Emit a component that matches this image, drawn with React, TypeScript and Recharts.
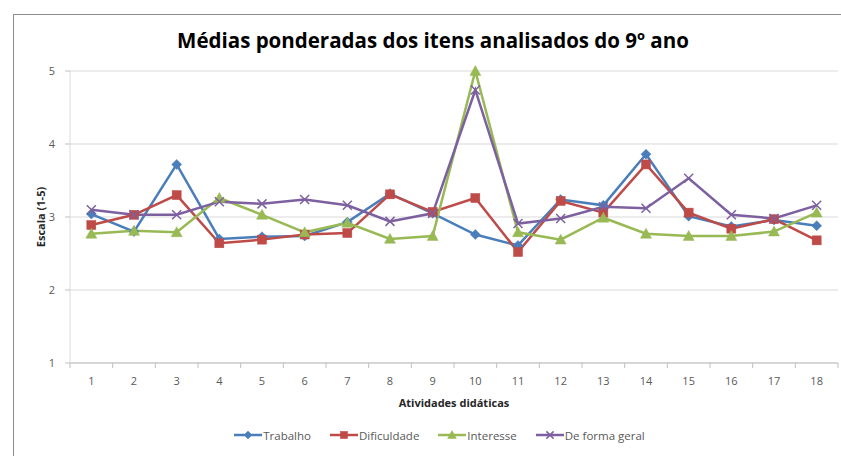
import React from 'react';
import { LineChart, Line, XAxis, YAxis, CartesianGrid, Legend } from 'recharts';

const categories = ['1','2','3','4','5','6','7','8','9','10','11','12','13','14','15','16','17','18'];
const trabalho = [3.04, 2.80, 3.72, 2.70, 2.73, 2.74, 2.93, 3.32, 3.05, 2.76, 2.61, 3.24, 3.16, 3.86, 3.01, 2.87, 2.96, 2.88];
const dificuldade = [2.89, 3.03, 3.30, 2.64, 2.69, 2.76, 2.78, 3.31, 3.07, 3.26, 2.52, 3.22, 3.06, 3.72, 3.06, 2.84, 2.97, 2.68];
const interesse = [2.77, 2.81, 2.79, 3.26, 3.03, 2.79, 2.92, 2.70, 2.74, 5.0, 2.79, 2.69, 2.99, 2.77, 2.74, 2.74, 2.80, 3.06];
const geral = [3.10, 3.03, 3.03, 3.21, 3.18, 3.24, 3.16, 2.94, 3.05, 4.74, 2.91, 2.98, 3.14, 3.12, 3.53, 3.03, 2.98, 3.16];
const yTicks = [1, 2, 3, 4, 5];

const seriesNames = ['Trabalho', 'Dificuldade', 'Interesse', 'De forma geral'];
const colors = ['#4A7EBB', '#BE4B48', '#98B954', '#7D60A0'];
const markers = ['diamond', 'square', 'triangle', 'x'];

const data = categories.map((c, i) => ({
  cat: c,
  trabalho: trabalho[i],
  dificuldade: dificuldade[i],
  interesse: interesse[i],
  geral: geral[i],
}));

const FONT = "'Open Sans', 'Liberation Sans', sans-serif";
const PLOT_W = 768;
const HALF_STEP = PLOT_W / categories.length / 2;

function Marker({ kind, cx, cy, color, s = 1 }: { kind: string; cx: number; cy: number; color: string; s?: number }) {
  if (cx == null || cy == null || isNaN(cx) || isNaN(cy)) return null;
  if (kind === 'diamond') {
    const r = 5 * s;
    return <polygon points={`${cx},${cy - r} ${cx + r},${cy} ${cx},${cy + r} ${cx - r},${cy}`} fill={color} stroke={color} strokeWidth={0.5} />;
  }
  if (kind === 'square') {
    const r = 4.5 * s;
    return <rect x={cx - r} y={cy - r} width={2 * r} height={2 * r} fill={color} stroke={color} strokeWidth={0.5} />;
  }
  if (kind === 'triangle') {
    const r = 5.5 * s;
    return <polygon points={`${cx},${cy - r} ${cx + r},${cy + r * 0.8} ${cx - r},${cy + r * 0.8}`} fill={color} stroke={color} strokeWidth={0.5} />;
  }
  const r = 4.5 * s;
  return (
    <g stroke={color} strokeWidth={1.5}>
      <line x1={cx - r} y1={cy - r} x2={cx + r} y2={cy + r} />
      <line x1={cx - r} y1={cy + r} x2={cx + r} y2={cy - r} />
    </g>
  );
}

const makeDot = (idx: number) => (props: any) => (
  <Marker key={`${idx}-${props.index}`} kind={markers[idx]} cx={props.cx} cy={props.cy} color={colors[idx]} />
);

const XTick = (props: any) => {
  const { x, y, payload, index } = props;
  return (
    <g>
      <line x1={x - HALF_STEP} y1={y} x2={x - HALF_STEP} y2={y + 5} stroke="#bfbfbf" />
      {index === categories.length - 1 && (
        <line x1={x + HALF_STEP} y1={y} x2={x + HALF_STEP} y2={y + 5} stroke="#bfbfbf" />
      )}
      <text x={x} y={y + 22} textAnchor="middle" fontSize={11} fill="#595959" fontFamily={FONT}>
        {payload.value}
      </text>
    </g>
  );
};

const LegendContent = () => (
  <div style={{ display: 'flex', justifyContent: 'center', alignItems: 'center', height: 24, paddingLeft: 30, fontFamily: FONT, fontSize: 11.5, color: '#595959' }}>
    {seriesNames.map((n, i) => (
      <div key={n} style={{ display: 'flex', alignItems: 'center', marginRight: 19 }}>
        <svg width={28} height={12}>
          <line x1={0} y1={6} x2={28} y2={6} stroke={colors[i]} strokeWidth={2.5} />
          <Marker kind={markers[i]} cx={14} cy={6} color={colors[i]} s={0.8} />
        </svg>
        <span style={{ marginLeft: 1 }}>{n}</span>
      </div>
    ))}
  </div>
);

const YLabel = (props: any) => {
  const vb = props.viewBox || { x: 30, y: 71, width: 40, height: 292 };
  const cx = vb.x + 10;
  const cy = vb.y + vb.height / 2;
  return (
    <text x={cx} y={cy} transform={`rotate(-90, ${cx}, ${cy})`} textAnchor="middle" dominantBaseline="central" fontSize={11} fontWeight={700} fill="#262626" fontFamily={FONT}>
      Escala (1-5)
    </text>
  );
};

export default function App() {
  const keys = ['trabalho', 'dificuldade', 'interesse', 'geral'];
  return (
    <div style={{ position: 'absolute', left: 0, top: 0, width: 841, height: 456, overflow: 'hidden', background: '#fff' }}>
      <div style={{ position: 'absolute', left: 13, top: 14, width: 900, height: 500, borderLeft: '1.5px solid #8c8c8c', borderTop: '1.5px solid #8c8c8c' }} />
      <div style={{ position: 'absolute', left: 0, top: 26, width: 866, textAlign: 'center', fontFamily: FONT, fontWeight: 700, fontSize: 20.5, color: '#000' }}>
        Médias ponderadas dos itens analisados do 9º ano
      </div>
      <div style={{ position: 'absolute', left: 0, top: 0 }}>
        <LineChart width={841} height={456} data={data} margin={{ top: 71, right: 3, left: 30, bottom: 9 }}>
          <CartesianGrid vertical={false} stroke="#d9d9d9" />
          <XAxis
            dataKey="cat"
            interval={0}
            padding={{ left: HALF_STEP, right: HALF_STEP }}
            tickLine={false}
            tickSize={0}
            tickMargin={0}
            tick={<XTick />}
            axisLine={{ stroke: '#bfbfbf' }}
            height={60}
            label={{ value: 'Atividades didáticas', position: 'insideBottom', offset: 16, fontSize: 11, fontWeight: 700, fill: '#262626', fontFamily: FONT }}
          />
          <YAxis
            domain={[1, 5]}
            ticks={yTicks}
            width={40}
            tickSize={5}
            tickMargin={10}
            tickLine={{ stroke: '#bfbfbf' }}
            axisLine={{ stroke: '#d9d9d9' }}
            tick={{ fontSize: 11, fill: '#595959', fontFamily: FONT }}
            label={<YLabel />}
          />
          <Legend verticalAlign="bottom" content={<LegendContent />} wrapperStyle={{ height: 24 }} />
          {keys.map((k, i) => (
            <Line
              key={k}
              type="linear"
              dataKey={k}
              name={seriesNames[i]}
              stroke={colors[i]}
              strokeWidth={2.5}
              dot={makeDot(i)}
              activeDot={false}
              isAnimationActive={false}
            />
          ))}
        </LineChart>
      </div>
    </div>
  );
}
